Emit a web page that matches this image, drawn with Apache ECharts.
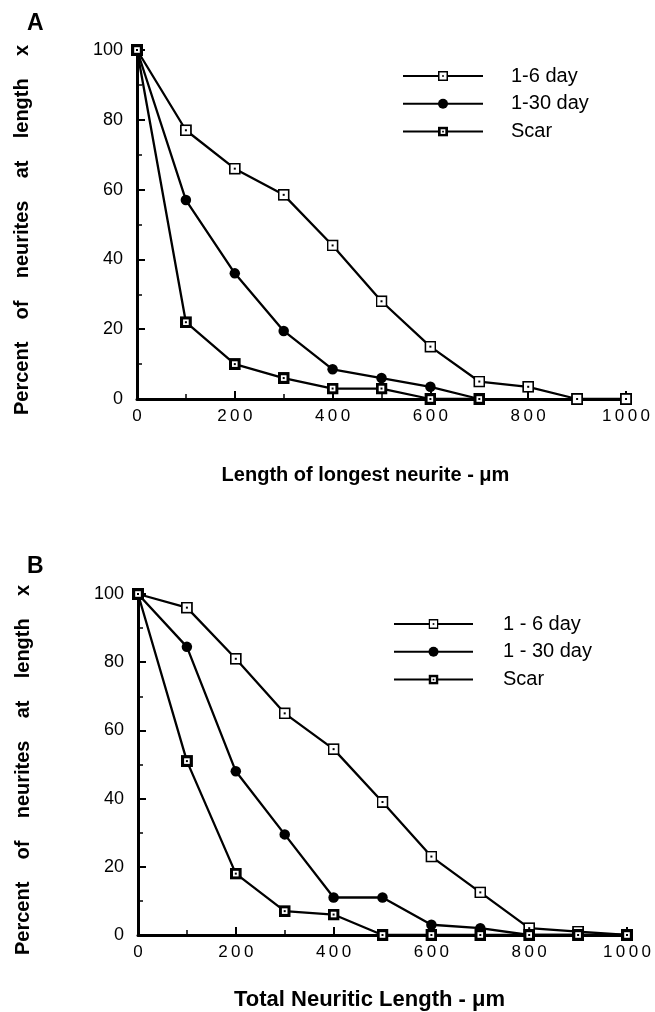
<!DOCTYPE html>
<html><head><meta charset="utf-8">
<script src="https://cdn.jsdelivr.net/npm/echarts@6/dist/echarts.min.js"></script>
<style>html,body{margin:0;padding:0;background:#fff}#c{width:655px;height:1012px}</style>
</head><body><div id="c"></div>
<script>
// ---- data ----
const xValues = [0, 100, 200, 300, 400, 500, 600, 700, 800, 900, 1000];
const a_1to6 = [100, 77, 66, 58.5, 44, 28, 15, 5, 3.5, 0, 0];
const a_1to30 = [100, 57, 36, 19.5, 8.5, 6, 3.5, 0];
const a_scar = [100, 22, 10, 6, 3, 3, 0, 0];
const b_1to6 = [100, 96, 81, 65, 54.5, 39, 23, 12.5, 2, 1, 0];
const b_1to30 = [100, 84.5, 48, 29.5, 11, 11, 3, 2, 0, 0, 0];
const b_scar = [100, 51, 18, 7, 6, 0, 0, 0, 0, 0, 0];
const xTickLabels = ['0', '200', '400', '600', '800', '1000'];
const yTickLabels = ['0', '20', '40', '60', '80', '100'];
const namesA = ['1-6 day', '1-30 day', 'Scar'];
const namesB = ['1 - 6 day', '1 - 30 day', 'Scar'];
const xTitleA = 'Length of longest neurite - \u03bcm';
const xTitleB = 'Total Neuritic Length - \u03bcm';
const yTitle = 'Percent    of    neurites    at    length    x';

// ---- styling ----
const FONT = "'Liberation Sans', Arial, Helvetica, sans-serif";
function svgSym(svg) { return 'image://data:image/svg+xml;charset=utf-8,' + encodeURIComponent(svg); }
const openSq = svgSym('<svg xmlns="http://www.w3.org/2000/svg" width="24" height="24" viewBox="0 0 12 12"><rect x="0.9" y="0.9" width="10.2" height="10.2" fill="#fff" stroke="#000" stroke-width="1.8"/><rect x="5" y="5" width="2" height="2" fill="#000"/></svg>');
const scarSq = svgSym('<svg xmlns="http://www.w3.org/2000/svg" width="24" height="24" viewBox="0 0 12 12"><rect x="0" y="0" width="12" height="12" fill="#000"/><rect x="3.2" y="3.2" width="5.6" height="5.6" fill="#fff"/><rect x="5" y="5" width="2" height="2" fill="#000"/></svg>');

function pairs(arr) { return arr.map((v, i) => [xValues[i], v]); }
function spaced(s) { return s.split('').join('\u2009'); }

function mkSeries(name, arr, idx, kind) {
  const s = {
    type: 'line', name, data: pairs(arr), xAxisIndex: idx, yAxisIndex: idx,
    lineStyle: { color: '#000', width: 2.3 },
    itemStyle: { color: '#000', opacity: 1 },
    showAllSymbol: true, animation: false, clip: false
  };
  if (kind === 'open') { s.symbol = openSq; s.symbolSize = 12; }
  else if (kind === 'dot') { s.symbol = 'circle'; s.symbolSize = 10.5; }
  else { s.symbol = scarSq; s.symbolSize = 12; }
  return s;
}

const grids = [
  { left: 137, top: 50, width: 489, height: 349 },
  { left: 138, top: 594, width: 489, height: 350 }
];

function xAxis(idx, title, gap, shift, fs) {
  return {
    type: 'value', gridIndex: idx, min: 0, max: 1000, interval: 200,
    axisLine: { show: true, lineStyle: { color: '#000', width: 3 } },
    axisTick: { show: true, inside: true, length: 8, lineStyle: { color: '#000', width: 2 } },
    minorTick: { show: true, splitNumber: 2, length: 5, lineStyle: { color: '#000', width: 1.5 } },
    splitLine: { show: false },
    axisLabel: {
      color: '#000', fontFamily: FONT, fontSize: 17, margin: 9,
      formatter: (v) => spaced(xTickLabels[Math.round(v / 200)])
    },
    name: title, nameLocation: 'middle', nameGap: gap,
    nameTextStyle: { color: '#000', fontFamily: FONT, fontWeight: 'bold', fontSize: fs, padding: [0, shift, 0, 0] }
  };
}
function yAxis(idx) {
  return {
    type: 'value', gridIndex: idx, min: 0, max: 100, interval: 20,
    axisLine: { show: true, lineStyle: { color: '#000', width: 3 } },
    axisTick: { show: true, inside: true, length: 8, lineStyle: { color: '#000', width: 2 } },
    minorTick: { show: true, splitNumber: 2, length: 5, lineStyle: { color: '#000', width: 1.5 } },
    splitLine: { show: false },
    axisLabel: {
      color: '#000', fontFamily: FONT, fontSize: 18, margin: 14,
      formatter: (v) => yTickLabels[Math.round(v / 20)]
    },
    name: yTitle, nameLocation: 'middle', nameGap: 105, nameRotate: 90,
    nameTextStyle: { color: '#000', fontFamily: FONT, fontWeight: 'bold', fontSize: 20, padding: [0, 11, 0, 0] }
  };
}

function legend(names, left, top, w, pad) {
  return {
    orient: 'vertical', left, top, data: names, padding: 0,
    itemWidth: w, itemHeight: 12.5, itemGap: 7.8,
    selectedMode: false,
    textStyle: { color: '#000', fontFamily: FONT, fontSize: 20, lineHeight: 20, padding: [0, 0, 0, pad] }
  };
}

const option = {
  backgroundColor: '#fff',
  animation: false,
  title: [
    { text: 'A', left: 27, top: 12, padding: 0, textStyle: { fontFamily: FONT, fontWeight: 'bold', fontSize: 23, color: '#000' } },
    { text: 'B', left: 27, top: 555, padding: 0, textStyle: { fontFamily: FONT, fontWeight: 'bold', fontSize: 23, color: '#000' } }
  ],
  grid: grids,
  xAxis: [xAxis(0, xTitleA, 66, 32, 20), xAxis(1, xTitleB, 54, 26, 22)],
  yAxis: [yAxis(0), yAxis(1)],
  legend: [legend(namesA, 402, 66, 80, 23), legend(namesB, 393, 614, 79, 25)],
  series: [
    mkSeries(namesA[0], a_1to6, 0, 'open'),
    mkSeries(namesA[1], a_1to30, 0, 'dot'),
    mkSeries(namesA[2], a_scar, 0, 'scar'),
    mkSeries(namesB[0], b_1to6, 1, 'open'),
    mkSeries(namesB[1], b_1to30, 1, 'dot'),
    mkSeries(namesB[2], b_scar, 1, 'scar')
  ]
};

const chart = echarts.init(document.getElementById('c'), null, { renderer: 'canvas' });
chart.setOption(option);
</script>
</body></html>
